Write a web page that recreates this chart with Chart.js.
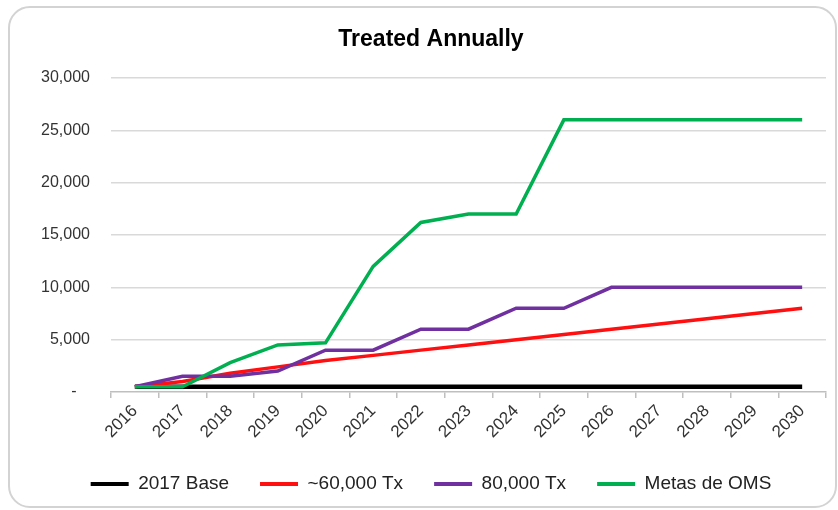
<!DOCTYPE html>
<html lang="en">
<head>
<meta charset="UTF-8" />
<title>Treated Annually</title>
<style>
  body {
    margin: 0;
    background: #fff;
  }
  .frame {
    position: relative;
    width: 838px;
    height: 510px;
  }
  .frame::after {
    content: '';
    position: absolute;
    box-sizing: border-box;
    left: 8px;
    top: 6px;
    width: 829px;
    height: 502px;
    border: 2px solid #d3d3d3;
    border-radius: 22px;
    pointer-events: none;
  }
  canvas {
    position: absolute;
    left: 0;
    top: 0;
  }
</style>
</head>
<body>

<div class="frame">
  <canvas id="treatedChart" width="838" height="510"></canvas>
</div>

<script src="https://cdn.jsdelivr.net/npm/chart.js"></script>
<script>
const years = ['2016', '2017', '2018', '2019', '2020', '2021', '2022', '2023',
               '2024', '2025', '2026', '2027', '2028', '2029', '2030'];

const base2017 = [500, 500, 500, 500, 500, 500, 500, 500, 500, 500, 500, 500, 500, 500, 500];
const tx60k    = [500, 1000, 1800, 2400, 3000, 3500, 4000, 4500, 5000, 5500, 6000, 6500, 7000, 7500, 8000];
const tx80k    = [500, 1500, 1500, 2000, 4000, 4000, 6000, 6000, 8000, 8000, 10000, 10000, 10000, 10000, 10000];
const metasOms = [500, 500, 2800, 4500, 4700, 12000, 16200, 17000, 17000, 26000, 26000, 26000, 26000, 26000, 26000];

const yMax = 30000;
const yStep = 5000;

const FONT = "'Liberation Sans', Arial, sans-serif";
const TEXT = '#333333';

function series(label, data, color, width, order) {
    return {
        label: label,
        data: data,
        borderColor: color,
        backgroundColor: color,
        borderWidth: width,
        pointRadius: 0,
        pointHoverRadius: 0,
        tension: 0,
        fill: false,
        order: order
    };
}

// legend: wide gaps between entries but a short box, so cap its height
const legendHeight = {
    id: 'legendHeight',
    beforeUpdate(chart) {
        const legend = chart.legend;
        if (!legend || legend._fitWrapped) return;
        const fit = legend.fit.bind(legend);
        legend.fit = function () {
            fit();
            this.height = 66.5;
        };
        legend._fitWrapped = true;
    }
};

const ctx = document.getElementById('treatedChart').getContext('2d');

const treatedChart = new Chart(ctx, {
    type: 'line',
    data: {
        labels: years,
        datasets: [
            series('2017 Base', base2017, '#000000', 4.5, 4),
            series('~60,000 Tx', tx60k, '#ff0f0f', 3.5, 3),
            series('80,000 Tx', tx80k, '#7030a0', 3.5, 2),
            series('Metas de OMS', metasOms, '#00b050', 3.5, 1)
        ]
    },
    plugins: [legendHeight],
    options: {
        responsive: false,
        animation: false,
        events: [],
        layout: {
            padding: {left: 36, right: 12, top: 0, bottom: 0}
        },
        plugins: {
            title: {
                display: true,
                text: 'Treated Annually',
                color: '#000',
                font: {family: FONT, size: 23, weight: 'bold'},
                padding: {top: 26, bottom: 24.4}
            },
            legend: {
                position: 'bottom',
                labels: {
                    color: '#222222',
                    font: {family: FONT, size: 19},
                    boxWidth: 38,
                    boxHeight: 4,
                    padding: 31,
                    sort: (a, b) => a.datasetIndex - b.datasetIndex,
                    generateLabels(chart) {
                        return Chart.defaults.plugins.legend.labels.generateLabels(chart)
                            .map(item => Object.assign(item, {lineWidth: 0}));
                    }
                }
            },
            tooltip: {enabled: false}
        },
        scales: {
            x: {
                offset: true,
                grid: {
                    offset: true,
                    drawOnChartArea: false,
                    drawTicks: true,
                    tickLength: 6,
                    color: '#bfbfbf',
                    lineWidth: 1.5
                },
                border: {color: '#bfbfbf', width: 1.5},
                ticks: {
                    color: TEXT,
                    font: {family: FONT, size: 17},
                    minRotation: 45,
                    maxRotation: 45,
                    autoSkip: false,
                    padding: 3
                },
                afterFit(scale) {
                    scale.height = 51.5;
                }
            },
            y: {
                min: 0,
                max: yMax,
                grid: {
                    drawTicks: false,
                    color: ctx => ctx.tick.value === 0 ? 'rgba(0,0,0,0)' : '#d9d9d9',
                    lineWidth: 1.5
                },
                border: {display: false},
                ticks: {
                    stepSize: yStep,
                    color: TEXT,
                    font: {family: FONT, size: 16},
                    padding: 21,
                    callback: v => v === 0 ? '-   ' : v.toLocaleString('en-US')
                },
                afterFit(scale) {
                    scale.width = 75;
                }
            }
        }
    }
});
</script>

</body>
</html>
